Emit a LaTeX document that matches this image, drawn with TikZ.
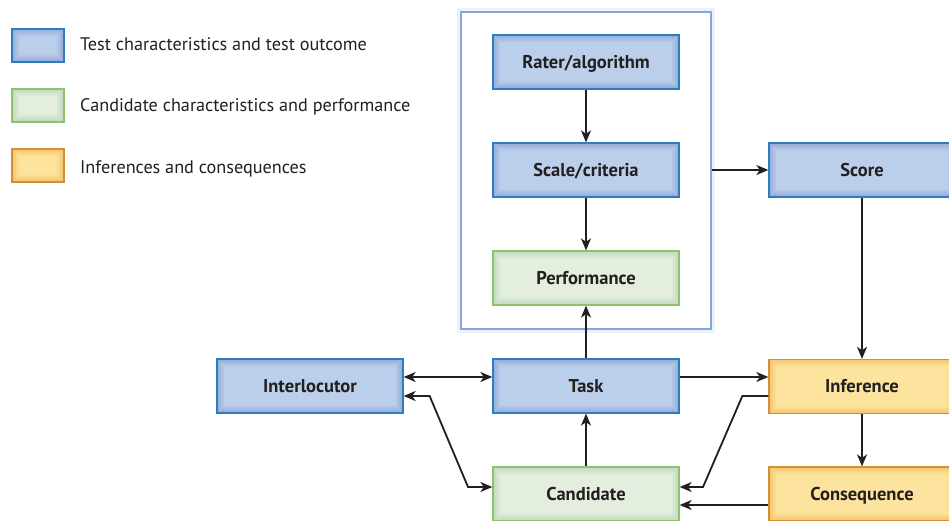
\documentclass[tikz,border=0pt]{standalone}
\usepackage{fontspec}
\setmainfont{PT Sans}
\usetikzlibrary{arrows.meta}
\definecolor{txt}{HTML}{231F20}
\definecolor{bin}{HTML}{BCCFEA}\definecolor{bout}{HTML}{93ACDA}\definecolor{bbd}{HTML}{2E7CC1}
\definecolor{gin}{HTML}{E3EEDF}\definecolor{gout}{HTML}{BFD8C0}\definecolor{gbd}{HTML}{8EC26B}
\definecolor{oin}{HTML}{FDE49E}\definecolor{oout}{HTML}{F4C46C}\definecolor{obd}{HTML}{D38E3A}
\definecolor{frm}{HTML}{85A8DB}
\tikzset{
  glow/.style 2 args={path picture={
    \foreach \i in {0,...,7} {
      \pgfmathtruncatemacro\p{100-\i*13}
      \draw[#2!\p!#1, line width=1.05pt]
        ([shift={(\i pt+0.5pt,\i pt+0.5pt)}]path picture bounding box.south west) rectangle
        ([shift={(-\i pt-0.5pt,-\i pt-0.5pt)}]path picture bounding box.north east);
    }}},
  boxbase/.style={rectangle, minimum width=186pt, minimum height=54pt, inner sep=0pt,
    text height=12.8pt, text depth=0pt,
    line width=1.3pt, font=\bfseries\fontsize{18.5}{20}\selectfont, text=txt},
  bluebox/.style={boxbase, fill=bin, draw=bbd, glow={bin}{bout}},
  greenbox/.style={boxbase, fill=gin, draw=gbd, glow={gin}{gout}},
  orangebox/.style={boxbase, fill=oin, draw=obd, glow={oin}{oout}},
  legbox/.style={rectangle, minimum width=52pt, minimum height=33pt, inner sep=0pt, line width=1.3pt},
  legtext/.style={anchor=base west, inner sep=0pt, text=txt, font=\fontsize{18.2}{20}\selectfont},
  frame/.style={rectangle, draw=frm, line width=1.8pt, minimum width=250pt, minimum height=317pt, inner sep=0pt},
  arr/.style={draw=txt, line width=1.8pt, -{Stealth[length=12pt,width=10pt,inset=3.5pt]}},
  arrb/.style={draw=txt, line width=1.8pt, {Stealth[length=12pt,width=10pt,inset=3.5pt]}-{Stealth[length=12pt,width=10pt,inset=3.5pt]}}
}
\begin{document}
\begin{tikzpicture}[x=1pt,y=1pt]
\useasboundingbox[fill=white] (0,0) rectangle (949,-521);
% legend
\node[legbox, fill=bin, draw=bbd, glow={bin}{bout}] (lb) at (38,-45.5) {};
\node[legbox, fill=gin, draw=gbd, glow={gin}{gout}] (lg) at (38,-105.5) {};
\node[legbox, fill=oin, draw=obd, glow={oin}{oout}] (lo) at (38,-165.5) {};
\node[legtext] (tb) at (80,-50.7) {Test characteristics and test outcome};
\node[legtext] (tg) at (80,-111.7) {Candidate characteristics and performance};
\node[legtext] (to) at (80,-173.3) {Inferences and consequences};
% frame
\draw[white!85!frm, line width=4pt] (459,-10) rectangle (713,-331);
\node[frame] (frame) at (586,-170.5) {};
% boxes
\node[bluebox] (rater) at (586,-62) {Rater/algorithm};
\node[bluebox] (scale) at (586,-170) {Scale/criteria};
\node[greenbox] (perf) at (586,-278) {Performance};
\node[bluebox] (score) at (862,-170) {Score};
\node[bluebox] (inter) at (310,-386) {Interlocutor};
\node[bluebox] (task) at (586,-386) {Task};
\node[orangebox] (inf) at (862,-386.5) {Inference};
\node[greenbox] (cand) at (586,-494) {Candidate};
\node[orangebox] (cons) at (862,-494) {Consequence};
% connectors
\draw[arr] (rater) -- (scale);
\draw[arr] (scale) -- (perf);
\draw[arr] (task) -- (perf);
\draw[arr] (frame.east |- score) -- (score.west);
\draw[arr] (score) -- (inf);
\draw[arrb] ([yshift=9pt]inter.east) -- ([yshift=9pt]task.west);
\draw[arrb] ([yshift=-10pt]inter.east) -- ++(26,0) -- (468,-487) -- ([yshift=7pt]cand.west);
\draw[arr] ([yshift=9pt]task.east) -- ([yshift=9pt]task.east -| inf.west);
\draw[arr] ([yshift=-9.5pt]inf.west) -- ++(-26,0) -- (703,-487) -- ([yshift=7pt]cand.east);
\draw[arr] (cand) -- (task);
\draw[arr] (inf) -- (cons);
\draw[arr] ([yshift=-11pt]cons.west) -- ([yshift=-11pt]cand.east);
\end{tikzpicture}
\end{document}
